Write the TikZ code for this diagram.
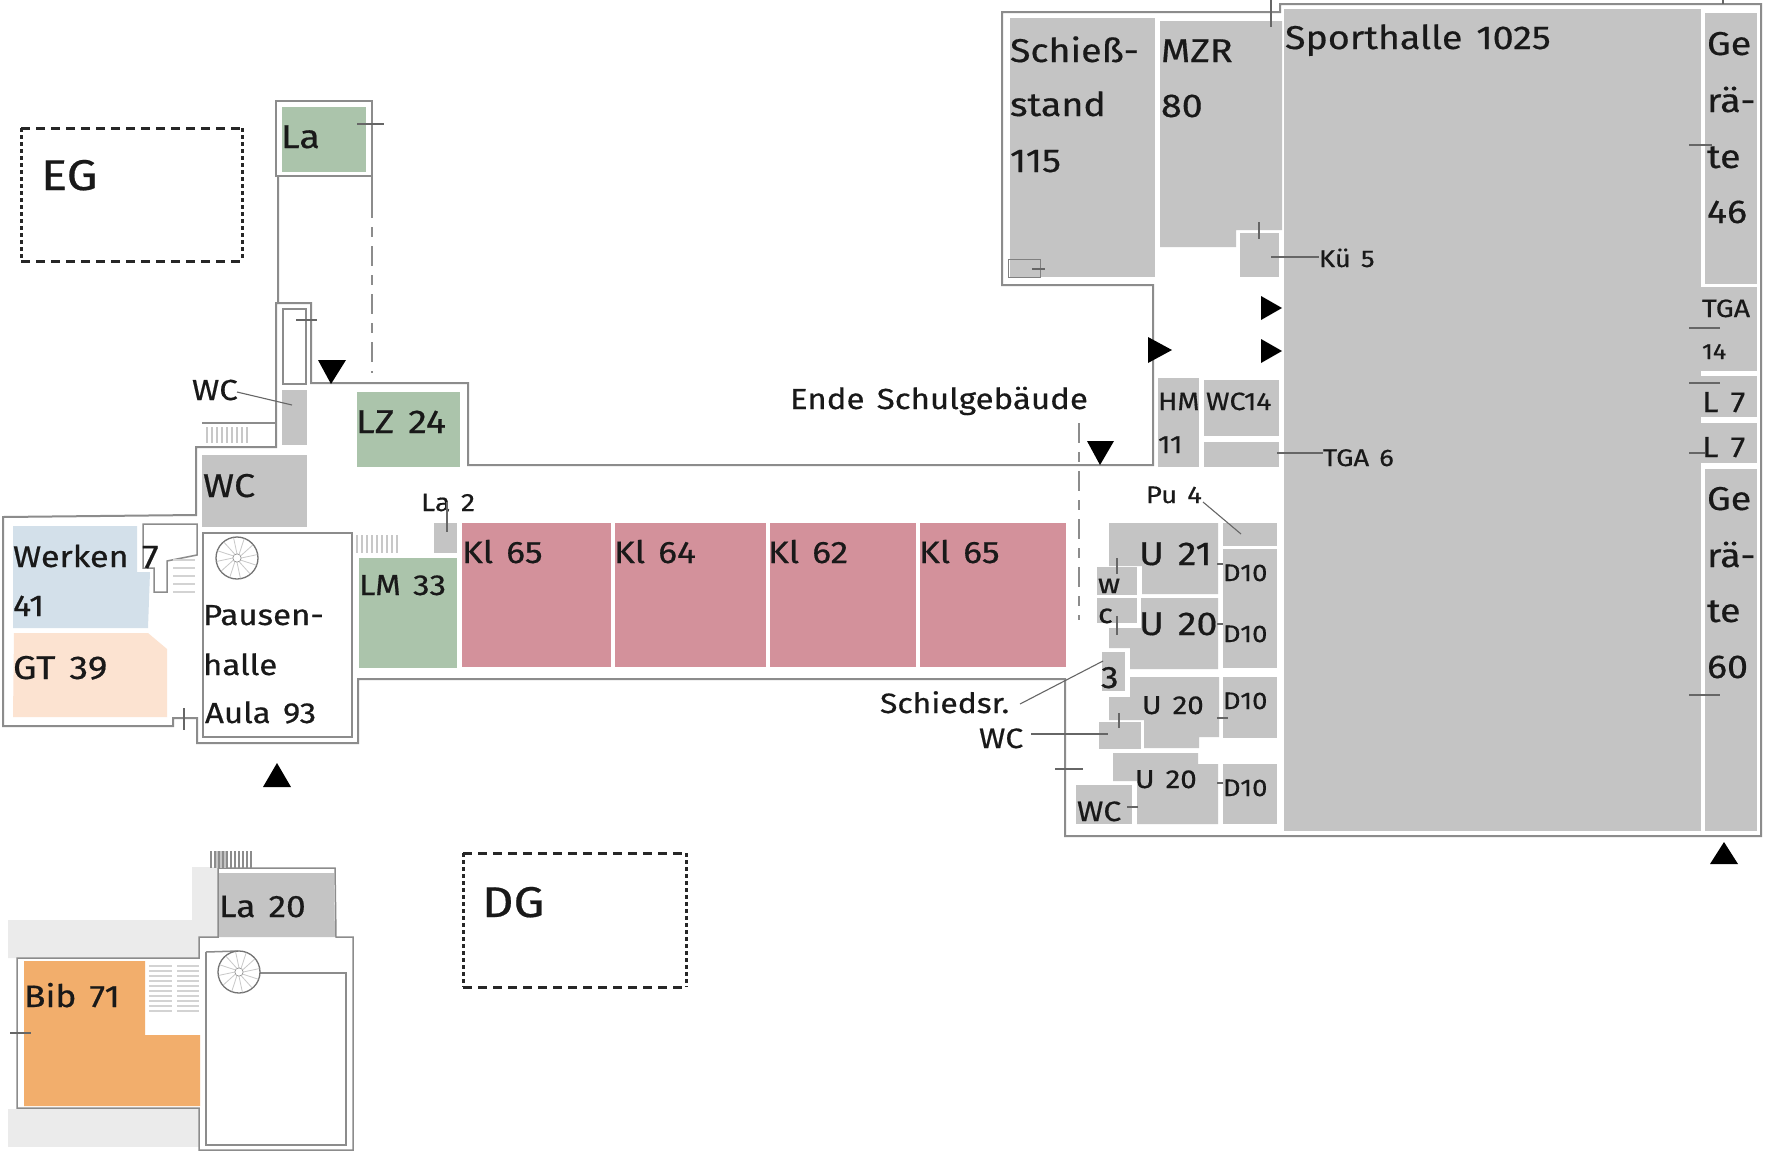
\documentclass[tikz,border=0pt]{standalone}
\usepackage{fontspec}
\setmainfont[FakeStretch=1.14,WordSpace=1.4,FakeBold=0.5]{Fira Sans}
\definecolor{roomgrey}{HTML}{C4C4C4}
\definecolor{roomgreen}{HTML}{ABC4AB}
\definecolor{roomred}{HTML}{D3919B}
\definecolor{roomblue}{HTML}{D3E0EA}
\definecolor{roompeach}{HTML}{FCE3D1}
\definecolor{roomorange}{HTML}{F2AE6C}
\definecolor{bandgrey}{HTML}{EBEBEB}
\definecolor{wallgrey}{HTML}{8C8C8C}
\definecolor{stairgrey}{HTML}{C8C8C8}
\tikzset{
  lbl/.style={anchor=base west,inner sep=0pt,outer sep=0pt,text=black!90,font=\fontsize{#1}{#1}\selectfont},
  wall/.style={draw=wallgrey,line width=2pt,line join=miter},
  thinwall/.style={draw=wallgrey,line width=1.5pt},
  tick/.style={draw=black!60,line width=1.1pt},
  grey/.style={fill=roomgrey},
  green/.style={fill=roomgreen},
  red/.style={fill=roomred},
  arrowmark/.style={fill=black},
  stairline/.style={draw=stairgrey,line width=1.2pt},
  stairthick/.style={draw=stairgrey!80,line width=2.6pt},
  framedash/.style={draw=black!85,line width=3pt,dash pattern=on 9pt off 6pt},
  framedot/.style={draw=black!85,line width=3pt,dash pattern=on 3.5pt off 3.5pt},
  dashwall/.style={draw=wallgrey,line width=1.5pt,dash pattern=on 20pt off 9pt on 10pt off 9pt}
}
\newcommand{\spokewheel}[3]{%
  \draw[draw=black!55,line width=1.3pt] (#1,#2) circle (#3pt);
  \draw[wallgrey,line width=0.7pt] (#1,#2) circle (#3pt*0.2);
  \foreach \a in {0,30,...,330}{\draw[stairgrey,line width=0.8pt] (#1,#2) ++(\a:#3pt*0.2) -- ++(\a+12:#3pt*0.78);}
}
\begin{document}
\begin{tikzpicture}[x=1pt,y=-1pt]
\useasboundingbox (0,0) rectangle (1767,1152);
\fill[white] (0,0) rectangle (1767,1152);

% lower floor bands
\fill[bandgrey] (192,867) -- (218,867) -- (218,937) -- (199,937) -- (199,958) -- (8,958) -- (8,920) -- (192,920) -- cycle;
\fill[bandgrey] (8,1109) rectangle (199,1147);

% rooms upper floor
\fill[green] (282,107) rectangle (366,172);
\fill[green] (357,392) rectangle (460,467);
\fill[green] (359,558) rectangle (457,668);
\fill[grey] (282,390) rectangle (307,445);
\fill[grey] (202,455) rectangle (307,527);
\fill[grey] (434,523) rectangle (457,553);
\fill[red] (462,523) rectangle (611,667);
\fill[red] (615,523) rectangle (766,667);
\fill[red] (770,523) rectangle (916,667);
\fill[red] (920,523) rectangle (1066,667);
\fill[roomblue] (13,526) -- (137,526) -- (137,572) -- (150,572) -- (148,628) -- (13,628) -- cycle;
\fill[roompeach] (14,633) -- (148,633) -- (167,649) -- (167,717) -- (13,717) -- cycle;

% sports wing rooms
\fill[grey] (1010,18) rectangle (1155,277);
\fill[grey] (1160,21) -- (1282,21) -- (1282,230) -- (1236,230) -- (1236,247) -- (1160,247) -- cycle;
\fill[grey] (1240,233) rectangle (1279,277);
\fill[grey] (1284,9) rectangle (1701,831);
\fill[grey] (1705,13) rectangle (1757,284);
\fill[grey] (1701,287) rectangle (1757,371);
\fill[grey] (1701,376) rectangle (1757,417);
\fill[grey] (1701,423) rectangle (1757,463);
\fill[grey] (1705,469) rectangle (1757,831);
\fill[grey] (1158,378) rectangle (1199,467);
\fill[grey] (1204,380) rectangle (1279,436);
\fill[grey] (1204,442) rectangle (1279,467);
\fill[grey] (1223,523) rectangle (1277,546);
\fill[grey] (1223,549) rectangle (1277,668);
\fill[grey] (1223,677) rectangle (1277,738);
\fill[grey] (1223,764) rectangle (1277,824);
\fill[grey] (1109,523) -- (1218,523) -- (1218,594) -- (1142,594) -- (1142,566) -- (1109,566) -- cycle;
\fill[grey] (1097,567) rectangle (1137,595);
\fill[grey] (1097,598) rectangle (1137,623);
\fill[grey] (1141,598) -- (1218,598) -- (1218,669) -- (1130,669) -- (1130,648) -- (1109,648) -- (1109,628) -- (1141,628) -- cycle;
\fill[grey] (1102,652) rectangle (1125,691);
\fill[grey] (1130,677) -- (1219,677) -- (1219,737) -- (1199,737) -- (1199,748) -- (1144,748) -- (1144,720) -- (1109,720) -- (1109,697) -- (1130,697) -- cycle;
\fill[grey] (1099,722) rectangle (1141,749);
\fill[grey] (1113,753) -- (1198,753) -- (1198,764) -- (1218,764) -- (1218,824) -- (1137,824) -- (1137,781) -- (1113,781) -- cycle;
\fill[grey] (1076,785) rectangle (1132,824);

% lower floor rooms
\fill[roomgrey] (218,873) -- (334,873) -- (335,937) -- (218,937) -- cycle;
\fill[roomorange] (24,961) -- (145,961) -- (145,1035) -- (200,1035) -- (200,1106) -- (24,1106) -- cycle;

% outer walls upper floor
\draw[wall] (278,176) -- (278,303) -- (311,303) -- (311,383) -- (468,383) -- (468,465) -- (1153,465) -- (1153,285) -- (1002,285) -- (1002,12) -- (1280,12) -- (1280,4) -- (1761,4) -- (1761,836) -- (1065,836) -- (1065,679) -- (358,679) -- (358,743) -- (197,743) -- (197,718) -- (173,718) -- (173,726) -- (3,726) -- (3,517) -- (196,515) -- (196,447) -- (276,447) -- (276,303) -- (278,303);
\draw[wall] (276,101) rectangle (372,176);
\draw[wall] (372,176) -- (372,198);
\draw[dashwall] (372,198) -- (372,373);
\draw[thinwall] (283,309) rectangle (306,384);
\draw[thinwall] (203,533) rectangle (352,737);
\draw[thinwall] (143,524) -- (197,524) -- (197,555) -- (167,561) -- (167,592) -- (154,592) -- (154,568) -- (143,568) -- cycle;

% outline lower floor
\draw[thinwall] (17,958) -- (199,958) -- (199,937) -- (218,937) -- (218,868) -- (335,868) -- (336,937) -- (353,937) -- (353,1150) -- (199,1150) -- (199,1108) -- (17,1108) -- cycle;
\draw[thinwall] (206,952) -- (238,951);
\draw[thinwall] (260,973) -- (346,973) -- (346,1145) -- (206,1145) -- (206,952);

% small frame in shooting range
\draw[draw=black!50,line width=1pt] (1008,259) rectangle (1040,277);

% stairs
\foreach \x in {207,212,...,248}{\draw[stairline] (\x,427) -- (\x,443);}
\draw[thinwall] (202,423) -- (277,423);
\foreach \x in {357,362,...,398}{\draw[stairline] (\x,535) -- (\x,553);}
\foreach \y in {560,568,...,592}{\draw[stairthick] (173,\y) -- (195,\y);}
\fill[roomgrey] (216,851) rectangle (226,868);
\foreach \x in {211,215,...,252}{\draw[draw=black!45,line width=1.1pt] (\x,851) -- (\x,868);}
\foreach \y in {966,971,...,1012}{\draw[stairthick,line width=1.8pt] (149,\y) -- (172,\y);\draw[stairthick,line width=1.8pt] (177,\y) -- (199,\y);}

% spiral stairs
\spokewheel{237}{558}{21}
\spokewheel{239}{972}{21}

% arrows
\fill[arrowmark] (318,360) -- (346,360) -- (331,384) -- cycle;
\fill[arrowmark] (263,787) -- (291,787) -- (277,763) -- cycle;
\fill[arrowmark] (1087,441) -- (1114,441) -- (1100,465) -- cycle;
\fill[arrowmark] (1261,296) -- (1261,320) -- (1282,308) -- cycle;
\fill[arrowmark] (1261,339) -- (1261,363) -- (1282,351) -- cycle;
\fill[arrowmark] (1148,337) -- (1148,363) -- (1172,350) -- cycle;
\fill[arrowmark] (1710,864) -- (1738,864) -- (1724,842) -- cycle;

% frames
\draw[framedash] (21,128) -- (242,128);
\draw[framedot] (21,128) -- (21,261);
\draw[framedot] (242,128) -- (242,261);
\draw[framedash] (21,261) -- (242,261);
\draw[framedash] (463,853) -- (686,853);
\draw[framedot] (463,853) -- (463,987);
\draw[framedot] (686,853) -- (686,987);
\draw[framedash] (463,987) -- (686,987);

% dashed end-of-building line
\draw[dashwall] (1079,423) -- (1079,620);

% labels
\node[lbl=43] (eg) at (41,190) {EG};
\node[lbl=43] (dg) at (482,917) {DG};
\node[lbl=33] (la) at (281,148) {La};
\node[lbl=29] (wca) at (192,400) {WC};
\node[lbl=33] (lz) at (356,433) {LZ 24};
\node[lbl=33] (wcb) at (203,497) {WC};
\node[lbl=25] (la2) at (421,511) {La 2};
\node[lbl=29] (lm) at (359,595) {LM 33};
\node[lbl=31] (kla) at (462,563) {Kl 65};
\node[lbl=31] (klb) at (614,563) {Kl 64};
\node[lbl=31] (klc) at (768,563) {Kl 62};
\node[lbl=31] (kld) at (919,563) {Kl 65};
\node[lbl=30] (wk) at (13,567) {Werken};
\node[lbl=30] (wkb) at (13,616) {41};
\node[lbl=33] (sev) at (142,568) {7};
\node[lbl=33] (gt) at (13,679) {GT 39};
\node[lbl=29] (pa) at (203,625) {Pausen-};
\node[lbl=29] (pb) at (203,675) {halle};
\node[lbl=29] (pc) at (205,723) {Aula 93};
\node[lbl=31] (la20) at (219,917) {La 20};
\node[lbl=31] (bib) at (24,1007) {Bib 71};
\node[lbl=33] (sa) at (1010,62) {Schieß-};
\node[lbl=33] (sb) at (1010,116) {stand};
\node[lbl=33] (sc) at (1010,172) {115};
\node[lbl=33] (ma) at (1161,62) {MZR};
\node[lbl=33] (mb) at (1161,117) {80};
\node[lbl=33] (sport) at (1285,49) {Sporthalle 1025};
\node[lbl=24] (ku) at (1319,267) {Kü 5};
\node[lbl=25] (hma) at (1158,410) {HM};
\node[lbl=25] (hmb) at (1158,453) {11};
\node[lbl=25] (wcc) at (1206,410) {WC14};
\node[lbl=24] (tga) at (1323,466) {TGA 6};
\node[lbl=29] (ende) at (790,409) {Ende Schulgebäude};
\node[lbl=24] (pu) at (1146,503) {Pu 4};
\node[lbl=33] (ua) at (1139,565) {U 21};
\node[lbl=33] (ub) at (1139,635) {U 20};
\node[lbl=26] (uc) at (1142,714) {U 20};
\node[lbl=26] (ud) at (1135,788) {U 20};
\node[lbl=24] (da) at (1223,581) {D10};
\node[lbl=24] (db) at (1223,642) {D10};
\node[lbl=24] (dc) at (1223,709) {D10};
\node[lbl=24] (dd) at (1223,796) {D10};
\node[lbl=27] (w) at (1098,593) {w};
\node[lbl=27] (c) at (1098,623) {c};
\node[lbl=31] (three) at (1101,688) {3};
\node[lbl=28] (sch) at (880,713) {Schiedsr.};
\node[lbl=28] (wcd) at (979,748) {WC};
\node[lbl=28] (wce) at (1077,821) {WC};
\node[lbl=33] (ge1) at (1707,55) {Ge};
\node[lbl=33] (ge2) at (1707,112) {rä-};
\node[lbl=33] (ge3) at (1707,168) {te};
\node[lbl=33] (ge4) at (1707,223) {46};
\node[lbl=25] (tg1) at (1702,317) {TGA};
\node[lbl=22] (tg2) at (1702,359) {14};
\node[lbl=29] (l1) at (1702,412) {L 7};
\node[lbl=29] (l2) at (1702,457) {L 7};
\node[lbl=33] (gf1) at (1707,510) {Ge};
\node[lbl=33] (gf2) at (1707,567) {rä-};
\node[lbl=33] (gf3) at (1707,622) {te};
\node[lbl=33] (gf4) at (1707,678) {60};

% leader lines and ticks
\coordinate (wcaEnd) at (292,405);
\draw[tick] (237,392) -- (wcaEnd);
\draw[tick] (357,124) -- (384,124);
\draw[tick] (296,320) -- (317,320);
\draw[tick] (447,502) -- (447,532);
\draw[tick] (184,708) -- (184,730);
\draw[tick] (10,1033) -- (31,1033);
\draw[tick] (1032,269) -- (1045,269);
\draw[tick] (1271,0) -- (1271,27);
\draw[tick] (1259,222) -- (1259,239);
\coordinate (kuEnd) at (1271,257);
\draw[tick] (kuEnd) -- (ku.west |- kuEnd);
\coordinate (tgaEnd) at (1277,453);
\draw[tick] (tgaEnd) -- (tga.west |- tgaEnd);
\coordinate (puEnd) at (1241,534);
\draw[tick] (1203,502) -- (puEnd);
\draw[tick] (1217,564) -- (1223,564);
\draw[tick] (1217,624) -- (1223,624);
\draw[tick] (1217,718) -- (1228,718);
\draw[tick] (1217,783) -- (1223,783);
\draw[tick] (1117,558) -- (1117,574);
\draw[tick] (1117,616) -- (1117,635);
\draw[tick] (1119,713) -- (1119,728);
\coordinate (schEnd) at (1103,661);
\draw[tick] (1020,704) -- (schEnd);
\coordinate (wcdEnd) at (1108,734);
\draw[tick] (1031,734) -- (wcdEnd);
\draw[tick] (1055,769) -- (1083,769);
\draw[tick] (1127,807) -- (1138,807);
\draw[tick] (1723,0) -- (1723,4);
\draw[tick] (1689,145) -- (1712,145);
\draw[tick] (1689,328) -- (1720,328);
\draw[tick] (1689,383) -- (1720,383);
\draw[tick] (1689,453) -- (1705,453);
\draw[tick] (1689,695) -- (1720,695);
\end{tikzpicture}
\end{document}
